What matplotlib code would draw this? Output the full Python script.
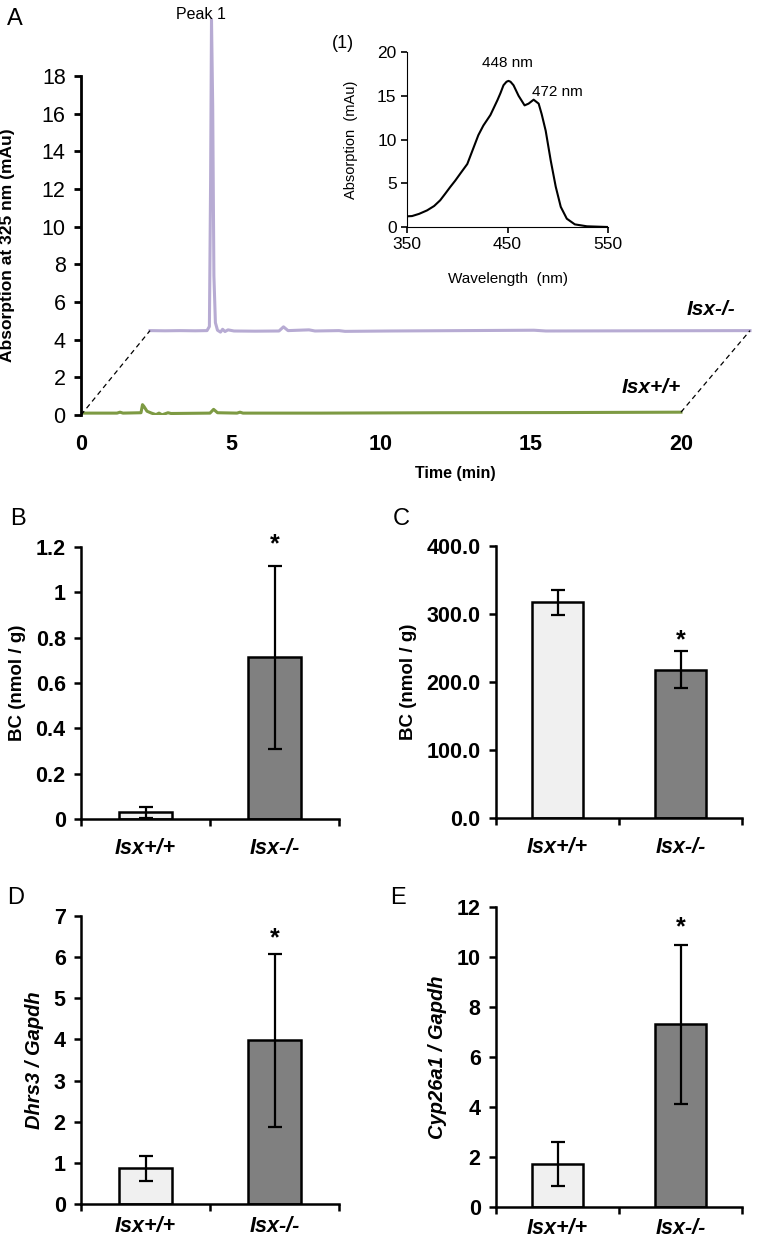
import matplotlib
matplotlib.use("Agg")
import matplotlib.pyplot as plt
from matplotlib.ticker import FixedLocator

plt.rcParams['font.family'] = ['Liberation Sans', 'DejaVu Sans']
NARROW = ['Liberation Sans Narrow', 'Liberation Sans', 'DejaVu Sans']

# ---- panel A: HPLC traces (time in min, absorbance in mAu) ----
wt_time = [0.0, 1.2, 1.3, 1.4, 2.0, 2.05, 2.1, 2.2, 2.35, 2.5, 2.6, 2.7, 2.9, 3.0,
           4.3, 4.42, 4.55, 5.2, 5.3, 5.4, 8.0, 12.0, 16.0, 20.0]
wt_abs = [0.10, 0.10, 0.15, 0.10, 0.12, 0.55, 0.45, 0.20, 0.10, 0.02, 0.10, 0.01, 0.12, 0.08,
          0.10, 0.30, 0.12, 0.10, 0.15, 0.10, 0.10, 0.12, 0.13, 0.15]
ko_time = [0.0, 0.5, 1.0, 1.5, 1.9, 1.98, 2.02, 2.05, 2.09, 2.13, 2.18, 2.25, 2.35, 2.42,
           2.5, 2.6, 2.8, 3.5, 4.3, 4.45, 4.6, 5.3, 5.5, 6.3, 6.5, 8.0, 12.8, 13.2, 20.0]
ko_abs = [0.08, 0.07, 0.08, 0.07, 0.08, 0.30, 8.0, 16.6, 12.0, 3.0, 0.5, 0.10, 0.0, 0.15,
          0.03, 0.12, 0.06, 0.05, 0.06, 0.28, 0.08, 0.12, 0.06, 0.08, 0.04, 0.06, 0.10, 0.06, 0.08]
ko_shift = (2.3, 4.4)   # pseudo-3D offset of the Isx-/- trace

# inset: absorption spectrum of peak 1
wl = [350, 355, 362, 370, 377, 383, 388, 393, 398, 403, 410, 416, 421, 426, 433, 440, 443,
      446, 449, 451, 453, 456, 461, 467, 471, 476, 481, 484, 488, 493, 498, 503, 509, 517, 529, 550]
spec = [1.22, 1.25, 1.5, 1.9, 2.4, 3.05, 3.8, 4.57, 5.3, 6.1, 7.2, 9.0, 10.5, 11.6, 12.8, 14.5, 15.3,
        16.2, 16.6, 16.7, 16.6, 16.2, 15.0, 13.9, 14.1, 14.55, 14.1, 12.9, 11.0, 7.6, 4.6, 2.3,
        0.95, 0.3, 0.08, 0.0]

# ---- bar panels ----
groups = ['Isx+/+', 'Isx-/-']
bc_serum = [0.03, 0.713]
bc_serum_err = [0.025, 0.403]
bc_liver = [317, 218]
bc_liver_err = [18, 27]
dhrs3 = [0.87, 3.98]
dhrs3_err = [0.30, 2.10]
cyp26a1 = [1.72, 7.31]
cyp26a1_err = [0.87, 3.18]

W, H = 762, 1241
fig = plt.figure(figsize=(W / 100, H / 100), dpi=100)

def frac(x0, y_top, x1, y_bot):
    return [x0 / W, 1 - y_bot / H, (x1 - x0) / W, (y_bot - y_top) / H]

# ================= panel A =================
ax = fig.add_axes(frac(81, 10, 759, 415))
ax.plot(wt_time, wt_abs, color='#7d9a43', lw=2.2, solid_joinstyle='round')
ax.plot([t + ko_shift[0] for t in ko_time], [a + ko_shift[1] for a in ko_abs],
        color='#b7abd3', lw=2.2, solid_joinstyle='round')
ax.plot([0, ko_shift[0]], [0, ko_abs[0] + ko_shift[1]], 'k--', lw=0.9, dashes=(4, 3))
ax.plot([wt_time[-1], ko_time[-1] + ko_shift[0]], [wt_abs[-1], ko_abs[-1] + ko_shift[1]],
        'k--', lw=0.9, dashes=(4, 3))
ax.set_xlim(0, 22.6)
ax.set_ylim(0, 21.5)
for s in ['top', 'right', 'bottom']:
    ax.spines[s].set_visible(False)
ax.spines['left'].set_bounds(0, 18)
ax.spines['left'].set_linewidth(2)
ax.set_yticks(range(0, 19, 2))
ax.set_xticks([0, 5, 10, 15, 20])
ax.tick_params(axis='y', length=5, width=2, labelsize=15.5, pad=6)
ax.tick_params(axis='x', length=0, labelsize=15.5, pad=14)
for lab in ax.get_xticklabels():
    lab.set_fontweight('bold')
ax.set_ylabel('Absorption at 325 nm (mAu)', fontsize=12.5, fontweight='bold')
ax.yaxis.set_label_coords(-0.098, 0.42)
ax.text(0.552, -0.145, 'Time (min)', transform=ax.transAxes, ha='center', va='center',
        fontsize=11.5, fontweight='bold', family=NARROW)
ax.text(4.0, 21.25, 'Peak 1', ha='center', va='center', fontsize=11.5, family=NARROW)
ax.text(21.8, 5.6, 'Isx-/-', ha='right', va='center', fontsize=15, fontweight='bold',
        style='italic')
ax.text(20.0, 1.45, 'Isx+/+', ha='right', va='center', fontsize=15, fontweight='bold',
        style='italic')
fig.text(15 / W, 1 - 19 / H, 'A', fontsize=17, ha='center', va='center', family=NARROW)

# inset
ins = fig.add_axes(frac(407, 52, 608, 227))
ins.plot(wl, spec, color='black', lw=1.5)
ins.set_xlim(350, 550)
ins.set_ylim(0, 20)
ins.set_xticks([350, 450, 550])
ins.set_yticks([0, 5, 10, 15, 20])
for s in ['top', 'right']:
    ins.spines[s].set_visible(False)
ins.tick_params(labelsize=12.5, length=4, width=1.2)
for lab in ins.get_xticklabels() + ins.get_yticklabels():
    lab.set_family(NARROW)
ins.set_xlabel('Wavelength  (nm)', fontsize=11, family=NARROW, labelpad=14)
ins.set_ylabel('Absorption  (mAu)', fontsize=10.5, labelpad=14)
ins.text(450, 18.7, '448 nm', ha='center', va='center', fontsize=11, family=NARROW)
ins.text(500, 15.4, '472 nm', ha='center', va='center', fontsize=11, family=NARROW)
fig.text(343 / W, 1 - 43 / H, '(1)', fontsize=13, ha='center', va='center', family=NARROW)

# ================= bar panels =================
def bar_panel(rect, vals, errs, ymax, yticks, ylabels, ylabel, ylabel_style, ylabel_size,
              star_y, letter, letter_xy, xpad=14):
    a = fig.add_axes(rect)
    a.bar([0, 1], vals, width=0.41, color=['#f0f0f0', '#808080'], edgecolor='black', linewidth=1.8,
          zorder=2)
    a.errorbar([0, 1], vals, yerr=errs, fmt='none', ecolor='black', elinewidth=1.6, capsize=5,
               capthick=1.6, zorder=3)
    a.set_xlim(-0.5, 1.5)
    a.set_ylim(0, ymax)
    for s in ['top', 'right']:
        a.spines[s].set_visible(False)
    for s in ['left', 'bottom']:
        a.spines[s].set_linewidth(1.8)
    a.set_yticks(yticks)
    a.set_yticklabels(ylabels, fontsize=15.5, fontweight='bold', family=NARROW)
    a.set_xticks([0, 1])
    a.set_xticklabels(groups, fontsize=15.5, fontweight='bold', style='italic', family=NARROW)
    a.xaxis.set_minor_locator(FixedLocator([-0.5, 0.5, 1.5]))
    a.tick_params(axis='x', which='major', length=0, pad=xpad)
    a.tick_params(axis='x', which='minor', length=5, width=1.8, direction='out')
    a.tick_params(axis='y', length=5, width=1.8, pad=6)
    a.set_ylabel(ylabel, fontsize=ylabel_size, fontweight='bold', style=ylabel_style, labelpad=7)
    a.text(1, star_y, '*', ha='center', va='center', fontsize=18, fontweight='bold')
    fig.text(letter_xy[0] / W, 1 - letter_xy[1] / H, letter, fontsize=17, ha='center', va='center',
             family=NARROW)
    return a

bar_panel(frac(81, 547, 339, 819), bc_serum, bc_serum_err, 1.2,
          [0, 0.2, 0.4, 0.6, 0.8, 1.0, 1.2], ['0', '0.2', '0.4', '0.6', '0.8', '1', '1.2'],
          'BC (nmol / g)', 'normal', 13.5, 1.21, 'B', (18, 519))
bar_panel(frac(496, 546, 742, 818), bc_liver, bc_liver_err, 400,
          [0, 100, 200, 300, 400], ['%.1f' % v for v in [0, 100, 200, 300, 400]],
          'BC (nmol / g)', 'normal', 13.5, 262, 'C', (401, 519))
bar_panel(frac(81, 916, 339, 1204), dhrs3, dhrs3_err, 7,
          list(range(0, 8)), [str(v) for v in range(0, 8)],
          'Dhrs3 / Gapdh', 'italic', 14.5, 6.45, 'D', (16, 898), xpad=9)
bar_panel(frac(496, 907, 742, 1207), cyp26a1, cyp26a1_err, 12,
          list(range(0, 13, 2)), [str(v) for v in range(0, 13, 2)],
          'Cyp26a1 / Gapdh', 'italic', 14.5, 11.2, 'E', (398, 898), xpad=8)

fig.savefig('out.png', dpi=100)
